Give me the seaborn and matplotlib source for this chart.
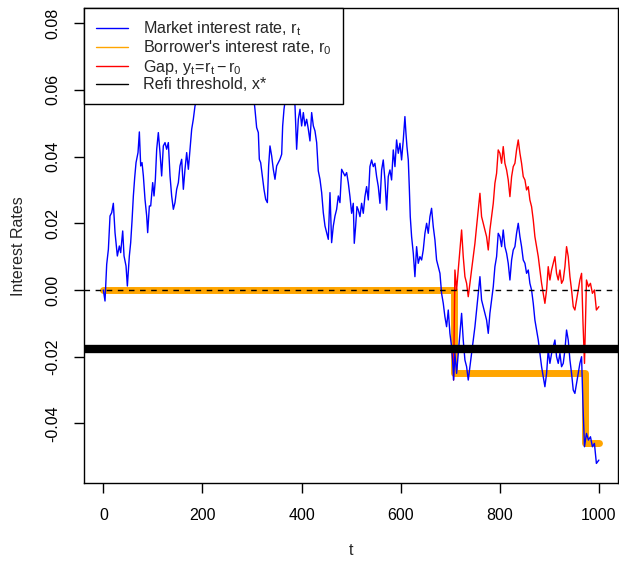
import numpy as np
import pandas as pd
import matplotlib
matplotlib.use("Agg")
import matplotlib.pyplot as plt
import seaborn as sns

# ---- data ----
t = [0.0, 3.4, 6.8, 10.2, 13.5, 16.9, 20.2, 23.6, 25.6, 28.3, 32.3, 35.0, 39.1, 41.8, 45.8,
     48.5, 52.5, 55.2, 57.9, 60.6, 63.3, 66.0, 70.0, 72.7, 75.4, 78.1, 80.8, 84.1, 87.5, 89.5,
     92.9, 95.6, 99.6, 102.3, 105.0, 107.7, 111.0, 114.4, 117.7, 121.1, 124.5, 127.8, 131.2,
     134.6, 137.9, 141.3, 144.6, 148.0, 151.4, 154.7, 158.1, 161.5, 164.8, 168.2, 171.6, 174.9,
     178.3, 181.6, 185.0,
     190, 196, 203, 210, 217, 224, 231, 238, 245, 252, 258, 264, 271, 278, 285, 292, 299, 304,
     306.0, 309.4, 312.8, 314.8, 317.5, 320.9, 324.2, 327.6, 331.0, 333.6, 336.3, 339.7, 343.0,
     346.4, 349.8, 353.1, 356.5, 359.9, 361.9, 364.6,
     368, 373, 378, 383,
     386.8, 390.1, 393.5, 396.9, 400.2, 403.6, 406.9, 410.3, 413.7, 417.0, 420.4, 423.8, 427.1,
     430.5, 433.8, 437.2, 440.6, 443.9, 447.3, 450.6, 454.0, 457.4, 460.7, 464.1, 467.5, 470.8,
     474.2, 477.5, 480.9, 484.3, 487.6, 491.0, 494.3, 497.7, 501.1, 504.4, 506.4, 509.1, 511.8,
     514.5, 517.9, 521.2, 524.6, 527.9, 531.3, 534.7, 538.0, 541.4, 544.8, 548.1, 551.5, 554.9,
     558.2, 561.6, 564.9, 568.3, 571.7, 575.0, 578.4, 581.7, 585.1, 588.5, 591.8, 595.2, 598.6,
     601.9, 605.3, 608.6, 610.7, 612.7, 615.4, 617.4, 619.4, 622.1, 625.5, 628.8, 632.2, 635.5,
     638.9, 642.3, 645.6, 649.0, 652.4, 655.7, 659.1, 662.4, 665.8, 669.2, 672.5, 675.9, 679.3,
     682.6, 686.0, 689.3, 692.7, 696.1, 699.4, 702.8, 704.8, 706.8, 709.5, 712.9, 716.2, 719.6,
     723.0, 726.3, 729.7, 733.1, 736.4, 739.8, 743.1, 746.5, 749.9, 753.2, 756.6, 760.0, 763.3,
     766.7, 770.0, 773.4, 776.8, 780.1, 783.5, 786.9, 790.2, 793.6, 796.9, 800.3, 803.7, 807.0,
     810.4, 813.8, 817.1, 820.5, 823.9, 827.2, 830.6, 833.9, 837.3, 840.7, 844.0, 847.4, 850.8,
     854.1, 857.5, 860.8, 864.2, 867.6, 870.9, 874.3, 877.7, 881.0, 884.4, 887.7, 891.1, 894.5,
     897.8, 901.2, 904.6, 907.9, 911.3, 914.6, 918.0, 921.4, 924.7, 928.1, 931.5, 934.8, 938.2,
     941.6, 944.9, 948.3, 951.6, 955.0, 958.4, 961.7, 965.1, 968.0, 971.0, 975.0, 979.0, 983.0,
     987.0, 991.0, 995.0, 1000.0]

market_rate = [0.0000, -0.0033, 0.0077, 0.0122, 0.0222, 0.0232, 0.0260, 0.0172, 0.0142, 0.0102,
     0.0132, 0.0112, 0.0177, 0.0102, 0.0072, 0.0012, 0.0102, 0.0142, 0.0207, 0.0282, 0.0337,
     0.0382, 0.0412, 0.0474, 0.0372, 0.0382, 0.0342, 0.0272, 0.0222, 0.0172, 0.0252, 0.0252,
     0.0322, 0.0282, 0.0332, 0.0422, 0.0472, 0.0412, 0.0342, 0.0432, 0.0442, 0.0422, 0.0442,
     0.0342, 0.0282, 0.0242, 0.0262, 0.0302, 0.0322, 0.0372, 0.0392, 0.0302, 0.0362, 0.0412,
     0.0362, 0.0422, 0.0482, 0.0512, 0.0552,
     0.058, 0.061, 0.059, 0.064, 0.062, 0.067, 0.064, 0.070, 0.068, 0.074, 0.079, 0.075, 0.071,
     0.073, 0.068, 0.070, 0.063, 0.057,
     0.0542, 0.0487, 0.0472, 0.0392, 0.0382, 0.0342, 0.0302, 0.0272, 0.0262, 0.0372, 0.0432,
     0.0402, 0.0362, 0.0332, 0.0372, 0.0382, 0.0392, 0.0407, 0.0492, 0.0542,
     0.058, 0.061, 0.059, 0.060,
     0.0552, 0.0422, 0.0512, 0.0542, 0.0492, 0.0532, 0.0492, 0.0512, 0.0482, 0.0447, 0.0532,
     0.0492, 0.0477, 0.0442, 0.0357, 0.0332, 0.0292, 0.0232, 0.0192, 0.0172, 0.0152, 0.0292,
     0.0142, 0.0192, 0.0222, 0.0242, 0.0282, 0.0262, 0.0362, 0.0352, 0.0342, 0.0352, 0.0322,
     0.028, 0.023, 0.026, 0.014, 0.019, 0.025, 0.024, 0.022, 0.026, 0.023, 0.028, 0.031, 0.027,
     0.037, 0.039, 0.037, 0.038, 0.034, 0.031, 0.026, 0.036, 0.039, 0.033, 0.024, 0.034, 0.036,
     0.033, 0.042, 0.037, 0.045, 0.041, 0.044, 0.039, 0.045, 0.052, 0.047, 0.043, 0.039, 0.031,
     0.022, 0.016, 0.011, 0.004, 0.013, 0.008, 0.010, 0.009, 0.012, 0.017, 0.020, 0.017, 0.022,
     0.0245, 0.019, 0.015, 0.009, 0.007, 0.005, -0.001, -0.004, -0.008, -0.011, -0.006, -0.013,
     -0.017, -0.021, -0.027, -0.019, -0.025, -0.019, -0.013, -0.007, -0.015, -0.021, -0.023,
     -0.027, -0.023, -0.019, -0.015, -0.011, -0.006, -0.001, 0.004, -0.003, -0.005, -0.007,
     -0.009, -0.013, -0.007, -0.003, 0.001, 0.007, 0.010, 0.017, 0.016, 0.013, 0.018, 0.013,
     0.011, 0.008, 0.003, 0.009, 0.012, 0.013, 0.017, 0.020, 0.016, 0.013, 0.009, 0.008, 0.005,
     0.006, 0.002, 0.000, -0.004, -0.009, -0.012, -0.015, -0.019, -0.023, -0.026, -0.029,
     -0.025, -0.018, -0.022, -0.019, -0.017, -0.015, -0.020, -0.022, -0.019, -0.023, -0.022,
     -0.018, -0.012, -0.015, -0.021, -0.025, -0.030, -0.031, -0.028, -0.025, -0.022, -0.020,
     -0.035, -0.047, -0.043, -0.045, -0.044, -0.047, -0.046, -0.052, -0.051]

refi_times = [0, 707, 972, 1000]
borrower_rate = [0.0, -0.025, -0.046, -0.046]
refi_threshold = -0.0177

x_ticks = [0, 200, 400, 600, 800, 1000]
y_ticks = [-0.04, -0.02, 0.00, 0.02, 0.04, 0.06, 0.08]

# ---- derived ----
market = pd.DataFrame({"t": t, "r": market_rate})
borrow = pd.DataFrame({"t": refi_times, "r0": borrower_rate})
r0_at_t = np.array(borrower_rate)[np.searchsorted(refi_times, market["t"], side="right") - 1]
market["gap"] = market["r"] - r0_at_t
# the gap coincides with the market rate until the first refinance; show it from there on
first_refi_idx = int(np.searchsorted(market["t"], refi_times[1])) - 1
gap_df = market.iloc[first_refi_idx:]

sns.set_style("white")
plt.rcParams["font.family"] = ["Liberation Sans", "DejaVu Sans"]
plt.rcParams["mathtext.fontset"] = "custom"
plt.rcParams["mathtext.rm"] = "Liberation Sans"
plt.rcParams["mathtext.it"] = "Liberation Sans"

fig = plt.figure(figsize=(6.19, 5.61), dpi=100)
ax = fig.add_axes([84 / 619, 1 - 483.3 / 561, (617.7 - 84) / 619, (483.3 - 8) / 561])

sns.lineplot(data=borrow, x="t", y="r0", ax=ax, color="orange", lw=5,
             drawstyle="steps-post", solid_capstyle="round", solid_joinstyle="round",
             estimator=None, sort=False, zorder=1, label="_b")
sns.lineplot(data=gap_df, x="t", y="gap", ax=ax, color="red", lw=1,
             estimator=None, sort=False, zorder=2, label="_g")
sns.lineplot(data=market, x="t", y="r", ax=ax, color="blue", lw=1,
             estimator=None, sort=False, zorder=3, label="_m")
ax.axhline(0, color="black", lw=1, ls=(0, (4, 4)), zorder=4)
ax.axhline(refi_threshold, color="black", lw=6, zorder=5)

ax.set_xlim(-39, 1038)
ax.set_ylim(-0.05796, 0.08456)
ax.set_xticks(x_ticks)
ax.set_xticklabels([str(v) for v in x_ticks])
ax.set_yticks(y_ticks)
ax.set_yticklabels([f"{v:.2f}" for v in y_ticks], rotation=90, va="center")
ax.tick_params(axis="both", direction="out", length=7, width=1, color="black",
               labelsize=11.5, labelcolor="black", bottom=True, left=True)
ax.tick_params(axis="x", pad=11)
ax.tick_params(axis="y", pad=10)
for s in ax.spines.values():
    s.set_color("black")
    s.set_linewidth(1)
ax.set_xlabel("t", fontsize=11.5, labelpad=14)
ax.set_ylabel("Interest Rates", fontsize=11.5, labelpad=14)

from matplotlib.lines import Line2D
handles = [Line2D([], [], color="blue", lw=1),
           Line2D([], [], color="orange", lw=1),
           Line2D([], [], color="red", lw=1),
           Line2D([], [], color="black", lw=1)]
labels = ["Market interest rate, $\\mathregular{r_t}$",
          "Borrower's interest rate, $\\mathregular{r_0}$",
          "Gap, $\\mathregular{y_t\\!=\\!r_t-r_0}$",
          "Refi threshold, x*"]
leg = ax.legend(handles, labels, loc="upper left", bbox_to_anchor=(0, 1),
                borderaxespad=0, frameon=True, fancybox=False, framealpha=1,
                edgecolor="black", fontsize=11.6, handlelength=2.0,
                handletextpad=0.95, labelspacing=0.03, borderpad=0.72)
leg.get_frame().set_linewidth(1)
leg.set_zorder(10)

fig.savefig("out.png", dpi=100)
